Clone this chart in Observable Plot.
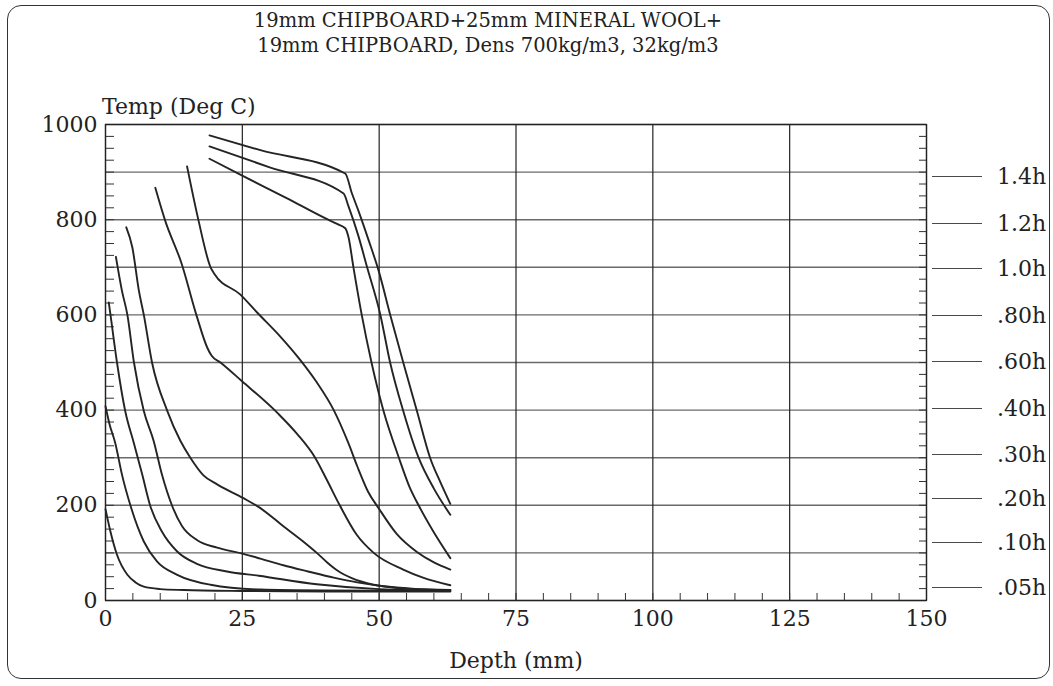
<!DOCTYPE html>
<html>
<head>
<meta charset="utf-8">
<script src="https://cdn.jsdelivr.net/npm/d3@7"></script>
<script src="https://cdn.jsdelivr.net/npm/@observablehq/plot@0.6"></script>
<style>
  html, body { margin: 0; padding: 0; background: #fff; }
  #wrap { position: relative; width: 1053px; height: 686px; overflow: hidden; font-family: "DejaVu Serif", "Liberation Serif", serif; color: #222; }
  #border { position: absolute; left: 7px; top: 5px; width: 1043px; height: 674px; border: 1.6px solid #333; border-radius: 14px; box-sizing: border-box; }
  #chart { position: absolute; left: 0; top: 0; }
  .title { position: absolute; left: 0; width: 976px; text-align: center; font-size: 19.5px; line-height: 24px; white-space: nowrap; }
  #ylab { position: absolute; left: 102px; top: 94px; font-size: 22px; white-space: nowrap; }
  .leg { position: absolute; left: 930px; width: 125px; height: 26px; }
  .leg .ln { position: absolute; left: 2px; top: 12px; width: 50px; height: 0; border-top: 1.8px solid #4a4a4a; }
  .leg .tx { position: absolute; left: 67px; top: 0; font-size: 22px; line-height: 26px; white-space: nowrap; }
</style>
</head>
<body>
<div id="wrap">
  <div id="chart"></div>
  <div id="border"></div>
  <div class="title" style="top:9px">19mm CHIPBOARD+25mm MINERAL WOOL+</div>
  <div class="title" style="top:34px">19mm CHIPBOARD, Dens 700kg/m3, 32kg/m3</div>
  <div id="ylab">Temp (Deg C)</div>
  <div id="legend"></div>
</div>
<script>
// ---- data (depth mm, temperature °C) ----
const seriesLabels = ["1.4h", "1.2h", "1.0h", ".80h", ".60h", ".40h", ".30h", ".20h", ".10h", ".05h"];
const legendY = [177, 224, 269, 316, 362, 409, 455, 499, 543, 588];
const xTicks = [0, 25, 50, 75, 100, 125, 150];
const yTicks = [0, 200, 400, 600, 800, 1000];

const h005 = [[0,192],[0.9,145],[2.1,96],[4,54],[5.5,38],[7,29],[10,24],[14.3,22],[25,20],[40,19],[63,19]];
const h010 = [[0,408],[0.7,372],[1.8,330],[3,265],[4.6,198],[7,124],[9.4,82],[13.1,54],[19.2,33],[28.3,23],[40,21],[63,20]];
const h020 = [[0.6,626],[0.9,601],[2.1,500],[3.6,398],[5.2,330],[6.7,265],[8.2,198],[10.3,145],[13.1,103],[16.7,77],[22.2,61],[28,52],[38.6,34],[50,24],[63,21]];
const h030 = [[1.9,722],[3,651],[4,600],[5.2,500],[7,398],[8.8,335],[10.3,265],[12.2,198],[14,156],[16.7,127],[20.4,111],[25.2,98],[28.3,88],[32.5,74],[37,61],[41.7,48],[46,38],[50.8,30],[56,25],[63,22]];
const h040 = [[3.8,784],[4.9,742],[6.1,651],[7,600],[8.5,500],[11.3,398],[13.7,335],[15.5,300],[17.9,263],[20.4,244],[25.2,215],[28.3,194],[32.5,156],[36,125],[38.6,100],[40.5,80],[42.5,62],[45,47],[49,33],[55,25],[63,22]];
const h060 = [[9.1,867],[10.9,798],[13.9,708],[16.6,600],[18.6,531],[19.4,514],[21,500],[24.9,461],[31.5,393],[35,350],[38.3,300],[40.5,252],[42.8,200],[45.9,138],[49,100],[54.4,65],[58,48],[63,32]];
const h080 = [[14.9,912],[17,798],[19.2,700],[19.9,686],[24.6,643],[27.7,605],[31.9,555],[35.6,505],[38.5,460],[41.7,400],[44.4,330],[46,282],[48,228],[49.9,194],[53.2,140],[56.9,102],[60,80],[63,65]];
const h100 = [[19,928],[24.9,893],[33,846],[40.5,801],[42.5,790],[43.8,782],[44.4,763],[45.3,700],[46.8,601],[48.6,500],[50.8,398],[53.6,300],[55.5,240],[57.3,198],[59.9,145],[63,89]];
const h120 = [[19,954],[30,910],[43.5,855],[44.4,828],[46.2,766],[47.8,700],[50.2,601],[52,500],[54.4,398],[57.2,300],[60,235],[63,180]];
const h140 = [[19,977],[28.3,946],[43.8,897],[45,856],[46.2,819],[48.1,756],[49.9,693],[52,601],[54.4,500],[56.9,398],[59.3,300],[61.2,248],[63,203]];

const seriesData = [h140, h120, h100, h080, h060, h040, h030, h020, h010, h005];

const rows = seriesData.flatMap((s, i) => s.map(([depth, temp]) => ({series: seriesLabels[i], depth, temp})));

const font = '"DejaVu Serif", "Liberation Serif", serif';

const chart = Plot.plot({
  width: 1053,
  height: 686,
  marginLeft: 105,
  marginRight: 127,
  marginTop: 124,
  marginBottom: 86,
  style: {fontFamily: font, fontSize: "21px", color: "#222", background: "transparent", overflow: "visible"},
  x: {domain: [0, 150]},
  y: {domain: [0, 1000]},
  marks: [
    Plot.gridY(d3.range(0, 1001, 100), {stroke: "#6a6a6a", strokeOpacity: 1, strokeWidth: 1.4}),
    Plot.gridX(xTicks, {stroke: "#222", strokeOpacity: 1, strokeWidth: 1.2}),
    Plot.axisY(d3.range(0, 1001, 25), {anchor: "left", tickSize: -9, text: null, stroke: "#333", label: null}),
    Plot.axisY(d3.range(0, 1001, 25), {anchor: "right", tickSize: -8, text: null, stroke: "#333", label: null}),
    Plot.axisX(d3.range(0, 151, 5), {anchor: "bottom", tickSize: -7, text: null, stroke: "#333", label: null}),
    Plot.axisY(yTicks, {anchor: "left", tickSize: 0, tickPadding: 8, fontSize: 22, fill: "#222", label: null, tickFormat: d => String(d)}),
    Plot.axisX(xTicks, {anchor: "bottom", tickSize: 0, tickPadding: 10, fontSize: 22, fill: "#222", tickFormat: d => String(d),
      label: "Depth (mm)", labelAnchor: "center", labelArrow: "none", labelOffset: 67}),
    Plot.frame({stroke: "#222", strokeWidth: 1.3}),
    Plot.line(rows, {x: "depth", y: "temp", z: "series", stroke: "#242424", strokeWidth: 1.9, curve: "monotone-x"})
  ]
});
document.getElementById("chart").appendChild(chart);

// legend (all series share the same dark pen in the reference)
const leg = document.getElementById("legend");
seriesLabels.forEach((lab, i) => {
  const d = document.createElement("div");
  d.className = "leg";
  d.style.top = (legendY[i] - 13) + "px";
  d.innerHTML = '<div class="ln"></div><div class="tx">' + lab + '</div>';
  leg.appendChild(d);
});
</script>
</body>
</html>
